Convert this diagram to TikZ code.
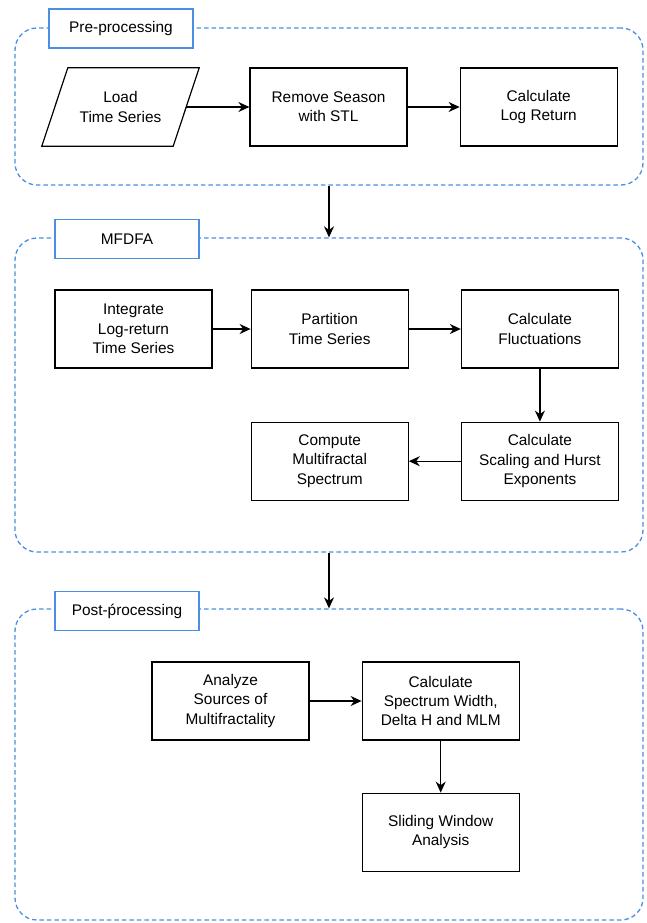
\documentclass[tikz,border=0pt]{standalone}
\usepackage{fontspec}
\setmainfont{Liberation Sans}
\usetikzlibrary{positioning,arrows.meta}
\definecolor{dashblue}{RGB}{74,144,226}
\begin{document}
\begin{tikzpicture}[x=1pt, y=-1pt, node distance=52pt,
  every node/.style={font=\fontsize{15.4}{19.3}\selectfont, align=center},
  procbox/.style={draw, line width=1.2pt, minimum width=157pt, minimum height=78pt, inner sep=0pt},
  iobody/.style={minimum width=131pt, minimum height=78pt, inner sep=0pt},
  groupframe/.style={draw=dashblue, line width=1.3pt, dash pattern=on 4.5pt off 3pt, rounded corners=22pt, minimum width=628pt, inner sep=0pt},
  grouplabel/.style={draw=dashblue, fill=white, line width=1.3pt, minimum width=144pt, minimum height=39pt, inner sep=0pt},
  flow/.style={-{Stealth[length=11pt, width=10pt]}, line width=1.2pt}]
\useasboundingbox (0,0) rectangle (647,923);
% group frames
\node[groupframe, minimum height=157pt] (pre) at (329,106.5) {};
\node[groupframe, minimum height=314pt] (mf) at (329,395) {};
\node[groupframe, minimum height=311pt] (post) at (329,764.5) {};
\node[grouplabel] (prelabel) at (121,28.5) {Pre-processing};
\node[grouplabel] (mflabel) at (127,239) {MFDFA};
\node[grouplabel] (postlabel) at (127,611) {Post-ṕrocessing};
% pre-processing
\node[iobody] (load) at (120.5,107) {Load\\Time Series};
\draw[line width=1.2pt] ([xshift=13pt]load.north west) -- ([xshift=13pt]load.north east)
  -- ([xshift=-13pt]load.south east) -- ([xshift=-13pt]load.south west) -- cycle;
\node[procbox] (remove) at (328.5,107) {Remove Season\\with STL};
\node[procbox, right=of remove] (logret) {Calculate\\Log Return};
% mfdfa
\node[procbox] (integ) at (133.5,329) {Integrate\\Log-return\\Time Series};
\node[procbox, right=38pt of integ] (partit) {Partition\\Time Series};
\node[procbox, right=of partit] (fluct) {Calculate\\Fluctuations};
\node[procbox, below=53pt of fluct] (scaling) {Calculate\\Scaling and Hurst\\Exponents};
\node[procbox, left=of scaling] (spectrum) {Compute\\Multifractal\\Spectrum};
% post-processing
\node[procbox] (sources) at (230.5,701) {Analyze\\Sources of\\Multifractality};
\node[procbox, right=of sources] (width) {Calculate\\Spectrum Width,\\Delta H and MLM};
\node[procbox, below=of width] (sliding) {Sliding Window\\Analysis};
% connectors
\draw[flow] (load.east) -- (remove.west);
\draw[flow] (remove) -- (logret);
\draw[flow] (pre.south) -- (mf.north);
\draw[flow] (integ) -- (partit);
\draw[flow] (partit) -- (fluct);
\draw[flow] (fluct) -- (scaling);
\draw[flow] (scaling) -- (spectrum);
\draw[flow] (mf.south) -- (post.north);
\draw[flow] (sources) -- (width);
\draw[flow] (width) -- (sliding);
\end{tikzpicture}
\end{document}
